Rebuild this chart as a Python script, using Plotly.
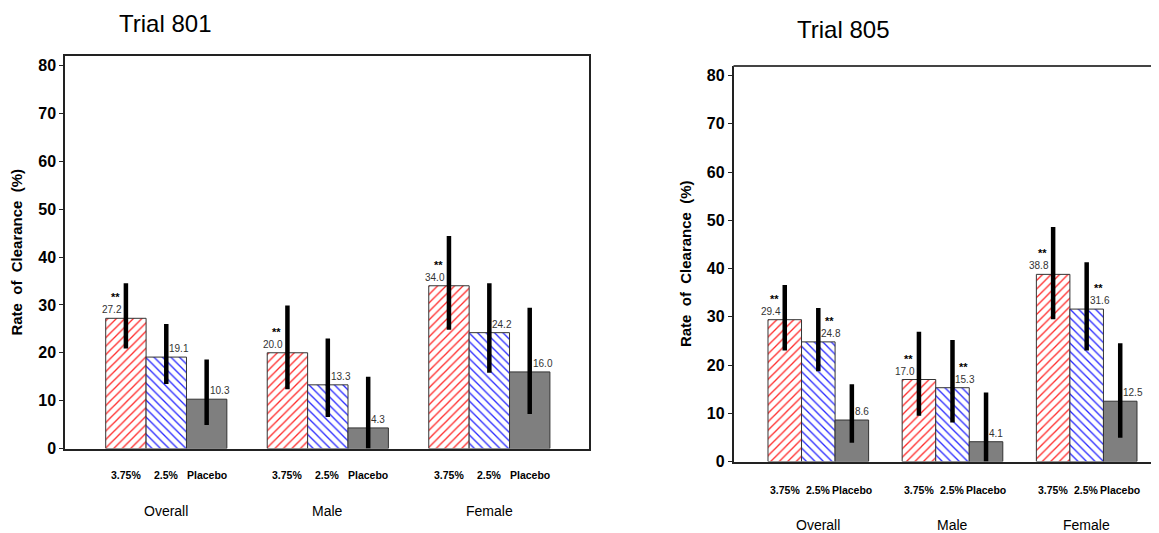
import plotly.graph_objects as go

W, H = 1159, 533
OFF = 8  # default body margin of the html page
FW, FH = W - OFF, H - OFF

groups = ["Overall", "Male", "Female"]
doses = ["3.75%", "2.5%", "Placebo"]

# Trial 801
t801_vals = {"3.75%": [27.2, 20.0, 34.0], "2.5%": [19.1, 13.3, 24.2], "Placebo": [10.3, 4.3, 16.0]}
t801_hi = {"3.75%": [34.5, 29.9, 44.4], "2.5%": [26.0, 23.0, 34.5], "Placebo": [18.6, 15.0, 29.4]}
t801_lo = {"3.75%": [20.9, 12.4, 24.8], "2.5%": [13.5, 6.6, 15.8], "Placebo": [4.9, 0.0, 7.2]}
t801_sig = {"3.75%": [True, True, True], "2.5%": [False, False, False], "Placebo": [False, False, False]}

# Trial 805
t805_vals = {"3.75%": [29.4, 17.0, 38.8], "2.5%": [24.8, 15.3, 31.6], "Placebo": [8.6, 4.1, 12.5]}
t805_hi = {"3.75%": [36.6, 26.9, 48.6], "2.5%": [31.8, 25.2, 41.3], "Placebo": [16.0, 14.3, 24.5]}
t805_lo = {"3.75%": [23.0, 9.5, 29.5], "2.5%": [18.7, 8.1, 23.0], "Placebo": [3.9, 0.0, 4.9]}
t805_sig = {"3.75%": [True, True, True], "2.5%": [True, True, True], "Placebo": [False, False, False]}

y_ticks = [0, 10, 20, 30, 40, 50, 60, 70, 80]

BARGAP = 0.25
BW = (1 - BARGAP) / 3
SANS = "Liberation Sans, Arial, sans-serif"


def px(x):
    return (x - OFF) / FW


def py(y):
    return 1 - (y - OFF) / FH


styles = {
    "3.75%": dict(color="white", pattern=dict(shape="/", fgcolor="#ff2a2a", bgcolor="white", size=6, solidity=0.22, fillmode="replace")),
    "2.5%": dict(color="white", pattern=dict(shape="\\", fgcolor="#2a2aff", bgcolor="white", size=6, solidity=0.22, fillmode="replace")),
    "Placebo": dict(color="#7f7f7f"),
}

fig = go.Figure()
annotations = []

panels = [
    dict(vals=t801_vals, hi=t801_hi, lo=t801_lo, sig=t801_sig, xa="x", ya="y",
         xdom=[px(65), px(589)], ydom=[py(448.5), py(56)],
         xrange=[-0.627, 2.617], title="Trial 801", title_x=165, title_y=23,
         dose_y=475, group_y=511, mirror=True),
    dict(vals=t805_vals, hi=t805_hi, lo=t805_lo, sig=t805_sig, xa="x2", ya="y2",
         xdom=[px(733.5), 1.0], ydom=[py(461.5), py(66)],
         xrange=[-0.632, 2.539], title="Trial 805", title_x=843, title_y=30,
         dose_y=490, group_y=525, mirror=False),
]

for p in panels:
    for k, d in enumerate(doses):
        v = p["vals"][d]
        plus = [h - a for h, a in zip(p["hi"][d], v)]
        minus = [a - l for a, l in zip(v, p["lo"][d])]
        fig.add_trace(go.Bar(
            x=list(range(len(groups))), y=v, name=d, xaxis=p["xa"], yaxis=p["ya"],
            marker=dict(line=dict(color="#333333", width=1), **styles[d]),
            error_y=dict(type="data", array=plus, arrayminus=minus, symmetric=False,
                         color="black", thickness=4.5, width=0),
            showlegend=False, hoverinfo="skip",
        ))
        for i, g in enumerate(groups):
            xc = i + (k - 1) * BW
            if k == 0:
                xanchor, xshift = "right", -2
            else:
                xanchor, xshift = "left", 1
            annotations.append(dict(x=xc, y=v[i], xref=p["xa"], yref=p["ya"], text=f"{v[i]:.1f}",
                                    showarrow=False, xanchor=xanchor, yanchor="bottom", xshift=xshift, yshift=1,
                                    font=dict(family=SANS, size=10, color="#333333")))
            if p["sig"][d][i]:
                annotations.append(dict(x=xc, y=v[i], xref=p["xa"], yref=p["ya"], text="**",
                                        showarrow=False, xanchor=xanchor, yanchor="bottom",
                                        xshift=xshift - (2 if k == 0 else -4), yshift=13,
                                        font=dict(family=SANS, size=11, color="black", weight="bold")))
            annotations.append(dict(x=xc, y=py(p["dose_y"]), xref=p["xa"], yref="paper", text=d,
                                    showarrow=False, xanchor="center", yanchor="middle",
                                    font=dict(family=SANS, size=10.5, color="black", weight="bold")))

    for i, g in enumerate(groups):
        annotations.append(dict(x=i, y=py(p["group_y"]), xref=p["xa"], yref="paper", text=g,
                                showarrow=False, xanchor="center", yanchor="middle",
                                font=dict(family=SANS, size=14, color="black")))
    annotations.append(dict(x=px(p["title_x"]), y=py(p["title_y"]), xref="paper", yref="paper",
                            text=p["title"], showarrow=False, xanchor="center", yanchor="middle",
                            font=dict(family=SANS, size=24, color="black")))


def xaxis(p):
    return dict(domain=p["xdom"], range=p["xrange"], anchor=p["ya"], showgrid=False, zeroline=False,
                showticklabels=False, ticks="", showline=True, linecolor="#222222", linewidth=1.5,
                mirror=p["mirror"], fixedrange=True, automargin=False)


def yaxis(p):
    return dict(domain=p["ydom"], range=[0, 82], anchor=p["xa"], showgrid=False, zeroline=False,
                tickvals=y_ticks, ticks="outside", ticklen=4, tickcolor="#222222",
                tickfont=dict(family=SANS, size=16, color="black", weight="bold"),
                showline=True, linecolor="#222222", linewidth=1.5, mirror=p["mirror"], automargin=False,
                title=dict(text="<b>Rate&nbsp; of&nbsp; Clearance&nbsp; (%)</b>", standoff=12,
                           font=dict(family=SANS, size=15, color="black")))


shapes = [dict(type="line", xref="paper", yref="paper", x0=px(733.5), x1=1.0,
               y0=py(66), y1=py(66), line=dict(color="#444444", width=2))]

fig.update_layout(
    width=FW, height=FH, margin=dict(l=0, r=0, t=0, b=0, autoexpand=False),
    paper_bgcolor="white", plot_bgcolor="white",
    barmode="group", bargap=BARGAP, bargroupgap=0,
    xaxis=xaxis(panels[0]), yaxis=yaxis(panels[0]),
    xaxis2=xaxis(panels[1]), yaxis2=yaxis(panels[1]),
    annotations=annotations, shapes=shapes,
)

fig.write_html("out.html")
